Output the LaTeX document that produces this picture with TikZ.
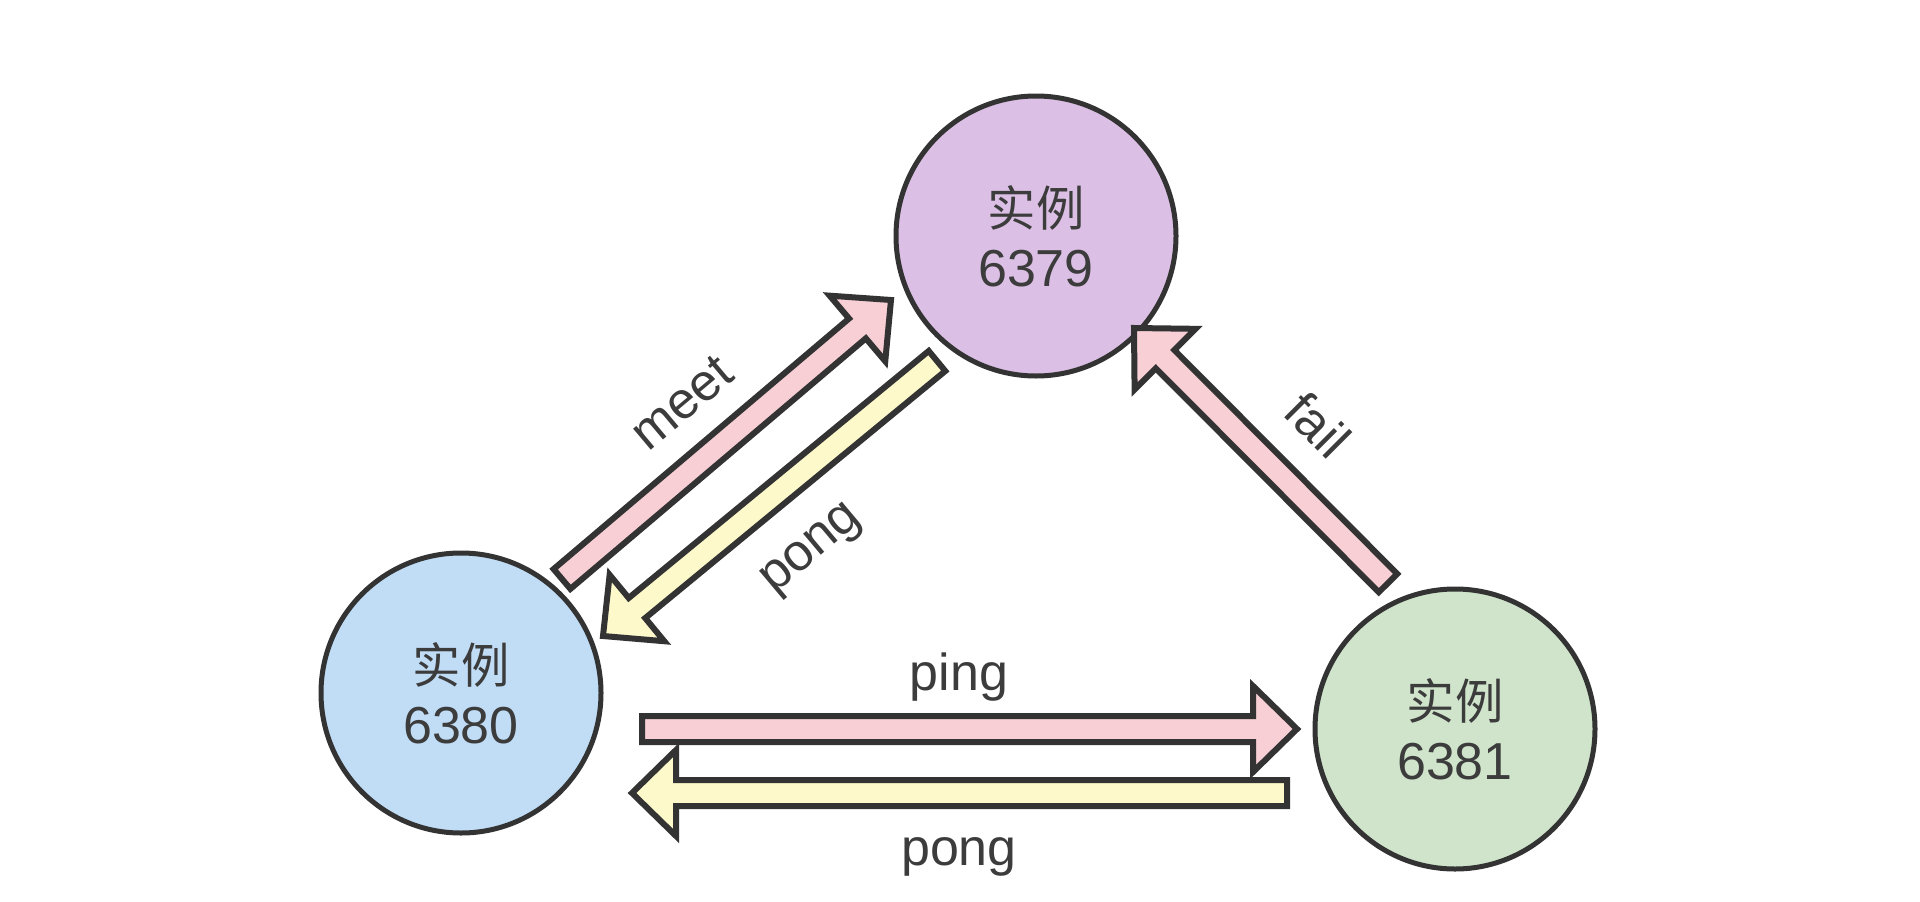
\documentclass[tikz,border=0pt]{standalone}
\usepackage{fontspec}
\setmainfont{Liberation Sans}
\newfontfamily\cjkf[Scale=0.93]{Noto Sans CJK SC}
\usetikzlibrary{calc}
\definecolor{edgec}{HTML}{333333}
\definecolor{textc}{HTML}{3C3C3C}
\definecolor{purplec}{HTML}{DBBFE4}
\definecolor{bluec}{HTML}{C1DDF6}
\definecolor{greenc}{HTML}{CFE4CB}
\definecolor{pinkc}{HTML}{F7CFD4}
\definecolor{yellowc}{HTML}{FDF9CB}
\tikzset{
  inst/.style={circle, draw=edgec, line width=5pt, minimum size=280pt, inner sep=0pt,
    align=center, text=textc, font=\fontsize{52}{60}\selectfont},
  lbl/.style={text=textc, font=\fontsize{52}{60}\selectfont, inner sep=0pt},
  barrow/.style={draw=edgec, line width=6pt, line join=miter, miter limit=10},
}
% #1 fill colour, #2 tail coordinate, #3 tip coordinate
\newcommand\blockarr[3]{%
  \coordinate (hb) at ($(#3)!44pt!(#2)$);
  \draw[barrow, fill=#1]
    ($(#2)!13pt!90:(#3)$) -- ($(hb)!13pt!90:(#3)$) -- ($(hb)!43pt!90:(#3)$)
    -- (#3)
    -- ($(hb)!43pt!-90:(#3)$) -- ($(hb)!13pt!-90:(#3)$) -- ($(#2)!13pt!-90:(#3)$) -- cycle;
}
\begin{document}
\begin{tikzpicture}[x=1pt,y=-1pt]
\useasboundingbox (0,0) rectangle (1920,902);
\node[inst, fill=purplec] (n6379) at (1036,236) {{\cjkf 实例}\\6379};
\node[inst, fill=bluec] (n6380) at (461,693) {{\cjkf 实例}\\6380};
\node[inst, fill=greenc] (n6381) at (1455,729) {{\cjkf 实例}\\6381};

\coordinate (meetS) at (562,579);   \coordinate (meetE) at (891,300);
\coordinate (pongdS) at (937,361);  \coordinate (pongdE) at (603,636);
\coordinate (failS) at (1388,583);  \coordinate (failE) at (1134,328);
\coordinate (pingS) at (642,729);   \coordinate (pingE) at (1297,729);
\coordinate (pongbS) at (1287,793); \coordinate (pongbE) at (632,793);

\blockarr{pinkc}{meetS}{meetE}
\blockarr{yellowc}{pongdS}{pongdE}
\blockarr{pinkc}{failS}{failE}
\blockarr{pinkc}{pingS}{pingE}
\blockarr{yellowc}{pongbS}{pongbE}

\node[lbl, rotate=40] (lmeet) at (682,403) {meet};
\node[lbl, rotate=40] (lpongd) at (813,551) {pong};
\node[lbl, rotate=-45] (lfail) at (1318,425) {fail};
\node[lbl] (lping) at (959,677) {ping};
\node[lbl] (lpongb) at (959,857) {pong};
\end{tikzpicture}
\end{document}
